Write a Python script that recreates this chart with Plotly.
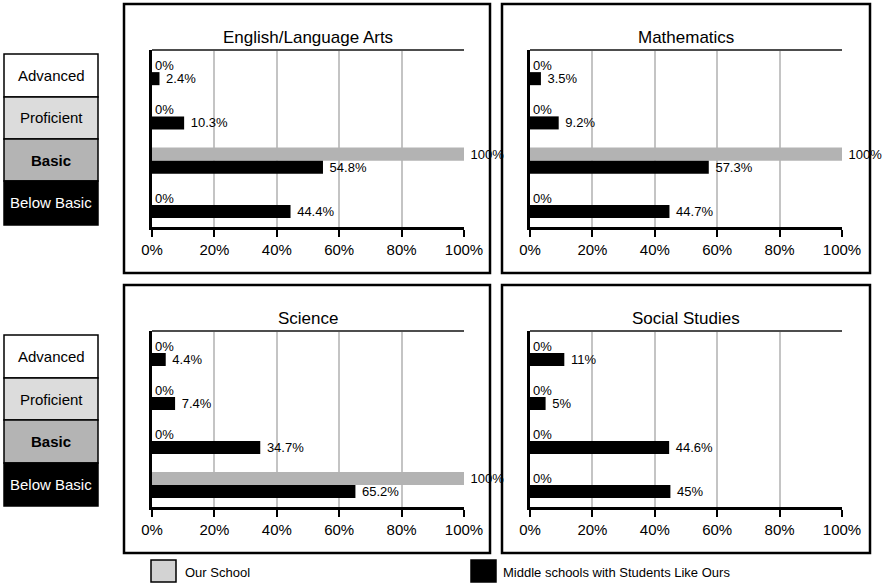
import plotly.graph_objects as go

W, H = 893, 583

levels = ["Advanced", "Proficient", "Basic", "Below Basic"]
subjects = ["English/Language Arts", "Mathematics", "Science", "Social Studies"]
our_school = {
    "English/Language Arts": [0, 0, 100, 0],
    "Mathematics": [0, 0, 100, 0],
    "Science": [0, 0, 0, 100],
    "Social Studies": [0, 0, 0, 0],
}
like_ours = {
    "English/Language Arts": [2.4, 10.3, 54.8, 44.4],
    "Mathematics": [3.5, 9.2, 57.3, 44.7],
    "Science": [4.4, 7.4, 34.7, 65.2],
    "Social Studies": [11, 5, 44.6, 45],
}
tick_vals = [0, 20, 40, 60, 80, 100]
tick_text = ["0%", "20%", "40%", "60%", "80%", "100%"]

FONT = "Liberation Sans, Arial, sans-serif"
GRAY_BAR = "#b3b3b3"

def px(x):
    return x / W

def py(y):
    return 1 - y / H

def lab(v, zero_plain=True):
    s = f"{v:g}%"
    if v == 0 and zero_plain:
        return s
    return "\u00a0" + s

# plot areas in pixels: (x0, x1, ytop, ybottom)
areas = [(152, 464, 50, 227), (530, 842, 50, 227),
         (152, 464, 331, 507), (530, 842, 331, 507)]
panels = [(124, 4, 490, 273), (502, 4, 870, 273),
          (124, 285, 490, 553), (502, 285, 870, 553)]
title_y = [37, 37, 318, 318]

fig = go.Figure()
layout = dict(width=W, height=H,
              margin=dict(l=0, r=0, t=0, b=0, pad=0, autoexpand=False),
              autosize=False,
              paper_bgcolor="white", plot_bgcolor="white",
              barmode="group", bargap=0.41, bargroupgap=0.0,
              showlegend=False, font=dict(family=FONT, color="black"))
shapes = []
annotations = []

for i, subj in enumerate(subjects):
    n = "" if i == 0 else str(i + 1)
    xa, ya = "x" + n, "y" + n
    fig.add_trace(go.Bar(
        y=levels, x=our_school[subj], orientation="h", name="Our School",
        marker=dict(color=GRAY_BAR, line=dict(width=0)),
        text=[lab(v) for v in our_school[subj]], textposition="outside",
        textfont=dict(size=13, color="black", family=FONT),
        constraintext="none", cliponaxis=False, xaxis=xa, yaxis=ya))
    fig.add_trace(go.Bar(
        y=levels, x=like_ours[subj], orientation="h",
        name="Middle schools with Students Like Ours",
        marker=dict(color="black", line=dict(width=0)),
        text=[lab(v, False) for v in like_ours[subj]], textposition="outside",
        textfont=dict(size=13, color="black", family=FONT),
        constraintext="none", cliponaxis=False, xaxis=xa, yaxis=ya))
    x0, x1, yt, yb = areas[i]
    layout["xaxis" + n] = dict(
        domain=[px(x0), px(x1)], anchor=ya, range=[0, 100],
        tickvals=tick_vals, ticktext=tick_text, ticks="outside", ticklen=7,
        tickwidth=2, tickcolor="black", showline=True, linecolor="black",
        linewidth=2.5, showgrid=True, gridcolor="#c4c4c4", gridwidth=1.5,
        zeroline=False, tickfont=dict(size=15, family=FONT, color="black"),
        automargin=False, fixedrange=True)
    layout["yaxis" + n] = dict(
        domain=[py(yb), py(yt)], anchor=xa, autorange="reversed",
        showticklabels=False, ticks="", showline=True, linecolor="black",
        linewidth=2.5, showgrid=False, zeroline=False, automargin=False,
        fixedrange=True)
    # top border line of plot area
    shapes.append(dict(type="line", xref="paper", yref="paper",
                       x0=px(x0), x1=px(x1), y0=py(yt), y1=py(yt),
                       line=dict(color="#4d4d4d", width=2)))
    # panel frame
    bx0, by0, bx1, by1 = panels[i]
    shapes.append(dict(type="rect", xref="paper", yref="paper",
                       x0=px(bx0), x1=px(bx1), y0=py(by0), y1=py(by1),
                       line=dict(color="black", width=2.5)))
    annotations.append(dict(text=subj, xref="paper", yref="paper",
                            x=px((x0 + x1) / 2), y=py(title_y[i]),
                            xanchor="center", yanchor="middle", showarrow=False,
                            font=dict(size=17, family=FONT, color="black")))

# left level keys
box_fill = ["white", "#dcdcdc", "#b4b4b4", "black"]
box_text_col = ["black", "black", "black", "white"]
groups = [[54, 97, 139, 181, 225], [335, 378, 420, 463, 506]]
for edges in groups:
    for k, name in enumerate(levels):
        shapes.append(dict(type="rect", xref="paper", yref="paper",
                           x0=px(4), x1=px(98), y0=py(edges[k]), y1=py(edges[k + 1]),
                           fillcolor=box_fill[k], line=dict(color="black", width=1.5),
                           layer="below"))
        txt = "<b>" + name + "</b>" if name == "Basic" else name
        annotations.append(dict(text=txt, xref="paper", yref="paper",
                                x=px(51), y=py((edges[k] + edges[k + 1]) / 2),
                                xanchor="center", yanchor="middle", showarrow=False,
                                font=dict(size=15, family=FONT, color=box_text_col[k])))

# bottom legend
legend_items = [("Our School", "#d3d3d3", 151, 183),
                ("Middle schools with Students Like Ours", "black", 471, 501)]
for name, col, sx, tx in legend_items:
    shapes.append(dict(type="rect", xref="paper", yref="paper",
                       x0=px(sx), x1=px(sx + 25), y0=py(560), y1=py(582),
                       fillcolor=col, line=dict(color="black", width=1.5)))
    annotations.append(dict(text=name, xref="paper", yref="paper",
                            x=px(tx), y=py(572), xanchor="left", yanchor="middle",
                            showarrow=False,
                            font=dict(size=13, family=FONT, color="black")))

layout["shapes"] = shapes
layout["annotations"] = annotations
fig.update_layout(**layout)
fig.write_html(
    "out.html",
    config={"displayModeBar": False},
    post_script="document.body.style.margin='0';document.body.style.padding='0';"
                "document.documentElement.style.overflow='hidden';"
                "document.body.style.overflow='hidden';",
)
